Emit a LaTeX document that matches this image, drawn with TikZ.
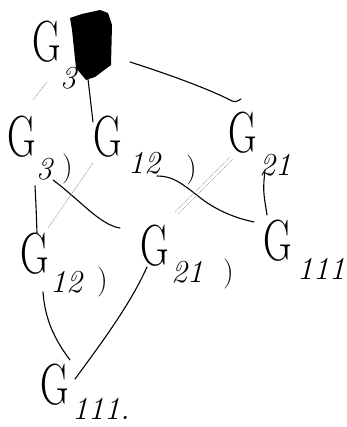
\documentclass[tikz,border=0pt]{standalone}
\begin{document}
\begin{tikzpicture}[x=1pt,y=-1pt,
  bigG/.style={font=\fontsize{58}{58}\selectfont, inner sep=0pt, anchor=base west},
  subs/.style={font=\itshape\fontsize{32}{32}\selectfont, inner sep=0pt, anchor=base west},
  paren/.style={font=\fontsize{30}{30}\selectfont, inner sep=0pt, anchor=base west},
  ink/.style={line width=1.1pt, black, line cap=round},
  faint/.style={line width=0.7pt, gray!70, densely dotted, line cap=round}]
\useasboundingbox (0,0) rectangle (346,427);
\newcommand\Gl{\scalebox{0.68}[1]{G}}

% top
\node[bigG] (tG) at (32,62) {\Gl};
\node[subs] (tS) at (60,89) {3};
\fill[black] (70,18) -- (82,14) -- (100,10) -- (108,13) -- (112,25) -- (111,65) -- (95,77) -- (86,80) -- (76,68) -- (72,30) -- cycle;
\coordinate (box) at (88,79);
\coordinate (boxr) at (130,62);

% row 2
\node[bigG] (aG) at (7,157) {\Gl};
\node[subs] (aS) at (36,180) {3};
\node[paren] (aP) at (62,177) {)};
\node[bigG] (bG) at (93,157) {\Gl};
\node[subs] (bS) at (128,174) {12};
\node[paren] (bP) at (186,178) {)};
\node[bigG] (cG) at (228,153) {\Gl};
\node[subs] (cS) at (259,176) {21};

% row 3
\node[bigG] (dG) at (20,273) {\Gl};
\node[subs] (dS) at (50,292) {12};
\node[paren] (dP) at (97,289) {)};
\node[bigG] (eG) at (140,265) {\Gl};
\node[subs] (eS) at (171,282) {21};
\node[paren] (eP) at (223,281) {)};
\node[bigG] (fG) at (263,260) {\Gl};
\node[subs] (fS) at (297,279) {111};

% row 4
\node[bigG] (gG) at (40,404) {\Gl};
\node[subs] (gS) at (72,419) {111.};

% connectors top -> row 2
\draw[ink] (box) .. controls (90,100) .. (93,122);
\draw[ink] (boxr) .. controls (180,78) and (215,92) .. (232,101) .. controls (236,102) .. (241,99);
\draw[faint] (47,82) -- (33,100);

% row 2 -> row 3
\draw[ink] (35,186) .. controls (36,205) .. (37,233);
\draw[ink] (53,180) .. controls (80,200) and (100,225) .. (120,228);
\draw[faint] (93,163) -- (48,228);
\draw[ink] (157,176) .. controls (172,176) and (180,182) .. (198,196) .. controls (215,210) and (235,218) .. (254,222);
\draw[faint] (230,157) -- (175,212);
\draw[faint] (233,159) -- (178,214);
\draw[ink] (265,170) .. controls (263,190) .. (267,215);

% row 3 -> row 4
\draw[ink] (43,292) .. controls (45,320) and (55,340) .. (70,360);
\draw[ink] (147,267) .. controls (130,305) and (100,345) .. (75,379);
\end{tikzpicture}
\end{document}
